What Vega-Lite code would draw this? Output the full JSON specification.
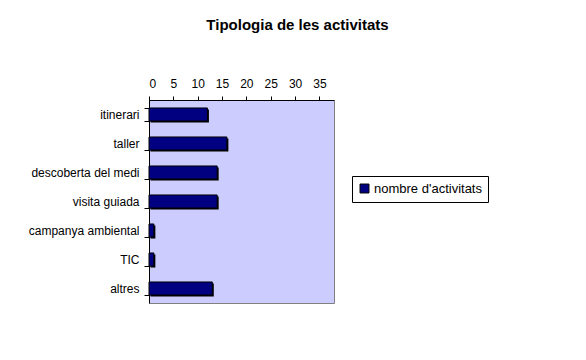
{
  "$schema": "https://vega.github.io/schema/vega-lite/v6.json",
  "autosize": {"type": "none"},
  "padding": {"left": 149, "top": 100, "right": 252, "bottom": 57},
  "width": 185,
  "height": 203,
  "background": "white",
  "title": {
    "text": "Tipologia de les activitats",
    "font": "Liberation Sans",
    "fontSize": 15,
    "fontWeight": "bold",
    "color": "black",
    "anchor": "middle",
    "dx": 56,
    "offset": 44
  },
  "config": {
    "view": {"fill": "#CCCCFF", "stroke": "#808080", "strokeWidth": 1},
    "font": "Liberation Sans"
  },
  "data": {
    "values": [
      {"tipus": "itinerari", "serie": "nombre d'activitats", "n": 12},
      {"tipus": "taller", "serie": "nombre d'activitats", "n": 16},
      {"tipus": "descoberta del medi", "serie": "nombre d'activitats", "n": 14},
      {"tipus": "visita guiada", "serie": "nombre d'activitats", "n": 14},
      {"tipus": "campanya ambiental", "serie": "nombre d'activitats", "n": 1},
      {"tipus": "TIC", "serie": "nombre d'activitats", "n": 1},
      {"tipus": "altres", "serie": "nombre d'activitats", "n": 13}
    ]
  },
  "encoding": {
    "y": {
      "field": "tipus",
      "type": "nominal",
      "sort": null,
      "scale": {"paddingInner": 0.55, "paddingOuter": 0.275},
      "axis": {
        "title": null,
        "labelFont": "Liberation Sans",
        "labelFontSize": 12,
        "labelColor": "black",
        "labelPadding": 5,
        "domainColor": "black",
        "tickColor": "black",
        "tickSize": 5,
        "tickBand": "extent"
      }
    },
    "x": {
      "field": "n",
      "type": "quantitative",
      "scale": {"domain": [0, 38], "nice": false},
      "axis": {
        "orient": "top",
        "title": null,
        "values": [0, 5, 10, 15, 20, 25, 30, 35],
        "grid": false,
        "labelFont": "Liberation Sans",
        "labelFontSize": 12,
        "labelColor": "black",
        "labelPadding": 6,
        "domainColor": "black",
        "tickColor": "black",
        "tickSize": 4
      }
    }
  },
  "layer": [
    {
      "mark": {"type": "bar", "color": "black", "xOffset": 1.5, "yOffset": 1.5}
    },
    {
      "mark": {"type": "bar", "stroke": "black", "strokeWidth": 1},
      "encoding": {
        "color": {
          "field": "serie",
          "type": "nominal",
          "scale": {"range": ["#000080"]},
          "legend": {
            "title": null,
            "orient": "none",
            "legendX": 203,
            "legendY": 76,
            "strokeColor": "black",
            "fillColor": "white",
            "padding": 6,
            "symbolType": "square",
            "symbolSize": 80,
            "symbolStrokeColor": "black",
            "symbolStrokeWidth": 1,
            "labelFont": "Liberation Sans",
            "labelFontSize": 13,
            "labelColor": "black",
            "labelOffset": 3
          }
        }
      }
    }
  ]
}
